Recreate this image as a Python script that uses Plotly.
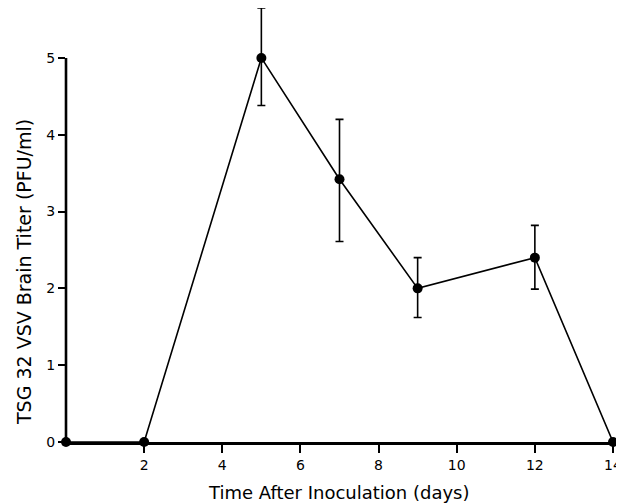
import plotly.graph_objects as go

days = [0, 2, 5, 7, 9, 12, 14]
titer = [0, 0, 5.0, 3.42, 2.0, 2.4, 0]
err_plus = [0, 0, 0.65, 0.78, 0.40, 0.42, 0]
err_minus = [0, 0, 0.62, 0.81, 0.38, 0.41, 0]
x_ticks = [2, 4, 6, 8, 10, 12, 14]
y_ticks = [0, 1, 2, 3, 4, 5]
x_title = "Time After Inoculation (days)"
y_title = "TSG 32 VSV Brain Titer (PFU/ml)"

FONT = "DejaVu Sans"
# page body has an 8px margin, so the figure is sized to fit the remaining window
W, H = 616, 496
L, R, T, B = 58, 11, 0, 62

fig = go.Figure()
fig.add_trace(go.Scatter(
    x=days, y=titer, mode="lines+markers",
    line=dict(color="black", width=1.6),
    marker=dict(color="black", size=10),
    error_y=dict(type="data", symmetric=False, array=err_plus, arrayminus=err_minus,
                 color="black", thickness=1.6, width=4),
    cliponaxis=False, showlegend=False,
))

# y axis line spanning only the labelled range (paper x so it is not half-clipped)
fig.add_shape(type="line", xref="paper", yref="y", x0=0, x1=0, y0=0, y1=max(y_ticks),
              line=dict(color="black", width=2.6), layer="above")

PW, PH = W - L - R, H - T - B
fig.add_annotation(text=x_title, xref="paper", yref="paper",
                   x=(331 - L) / PW, y=-(484 - (H - B)) / PH,
                   showarrow=False, xanchor="center", yanchor="middle",
                   font=dict(family=FONT, size=18, color="black"))
fig.add_annotation(text=y_title, xref="paper", yref="paper",
                   x=-(L - 16) / PW, y=((H - B) - 264) / PH,
                   textangle=-90, showarrow=False, xanchor="center", yanchor="middle",
                   font=dict(family=FONT, size=19, color="black"))

fig.update_layout(
    width=W, height=H,
    margin=dict(l=L, r=R, t=T, b=B, autoexpand=False),
    paper_bgcolor="white", plot_bgcolor="white",
    font=dict(family=FONT, size=14, color="black"),
    xaxis=dict(range=[0, 14], tickvals=x_ticks, ticktext=[str(v) for v in x_ticks],
               showline=True, linecolor="black", linewidth=2.8,
               ticks="outside", ticklen=8, tickwidth=1.8, tickcolor="black",
               showgrid=False, zeroline=False, automargin=False,
               tickfont=dict(family=FONT, size=14)),
    yaxis=dict(range=[0, 5.65], tickvals=y_ticks, ticktext=[str(v) for v in y_ticks],
               showline=False, automargin=False,
               ticks="outside", ticklen=7, tickwidth=1.8, tickcolor="black",
               showgrid=False, zeroline=False,
               tickfont=dict(family=FONT, size=14)),
)

fig.write_html("out.html")
